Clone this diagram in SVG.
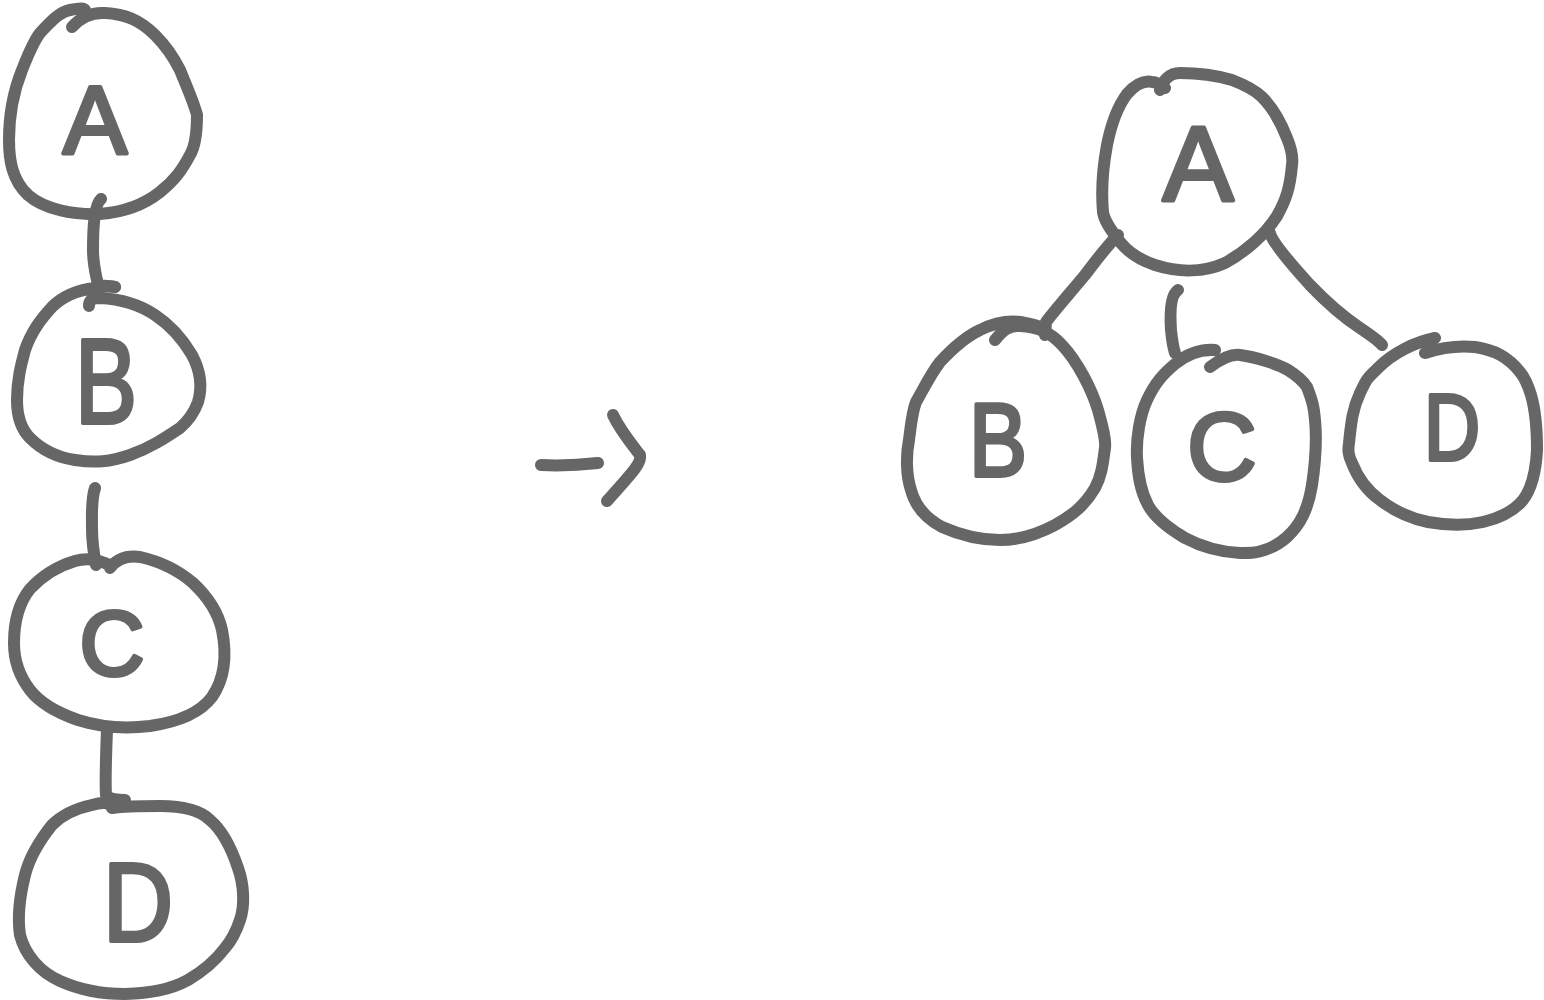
<svg xmlns="http://www.w3.org/2000/svg" width="1544" height="1000" viewBox="0 0 1544 1000">
<style>
.s{fill:none;stroke:#666;stroke-width:12;stroke-linecap:round;stroke-linejoin:round}
.t{font-family:"Liberation Sans",Arial,sans-serif;fill:#666;stroke:#666;stroke-width:4;stroke-linejoin:round;text-anchor:middle}
</style>
<rect width="1544" height="1000" fill="#fff"/>
<g id="connectors">
<path class="s" d="M101,199 C94,205 93,230 93,250 C93,265 96,275 98,285 L115,287"/>
<path class="s" d="M95,488 C91,500 92,515 92,528 C92,545 94,555 96,565"/>
<path class="s" d="M107,730 C106,755 105,780 106,795 C110,800 118,800 125,800"/>
<path class="s" d="M541,465 C560,466 580,465 598,463"/>
<path class="s" d="M613,415 C620,430 630,442 640,455 C642,462 635,470 607,501"/>
<path class="s" d="M1118,235 C1105,248 1095,262 1085,275 C1070,293 1055,310 1046,322 L1045,335"/>
<path class="s" d="M1178,290 C1170,295 1170,315 1171,330 C1172,340 1173,347 1175,353"/>
<path class="s" d="M1270,233 C1272,242 1290,263 1310,285 C1330,306 1345,318 1360,328 C1372,336 1378,340 1382,345"/>
</g>
<g id="node-A-left">
<path class="s" d="M72,27 C80,18 90,12 105,13 C125,14 140,20 155,35 C165,45 175,60 180,70 C186,85 194,103 197,115 C197,130 196,145 190,155 C182,170 175,180 160,192 C145,204 125,212 100,214 C75,215 45,210 28,195 C12,180 9,160 9,140 C9,115 14,90 22,70 C28,55 33,42 40,33 C52,20 60,12 70,10 C80,8 84,8 85,10"/>
<text class="t" x="95" y="153" font-size="96">A</text>
</g>
<g id="node-B-left">
<path class="s" d="M89,306 C89,300 92,298 100,298 C120,299 140,305 155,315 C170,325 182,338 192,355 C200,370 203,385 198,402 C194,413 187,422 180,428 C165,438 150,448 130,455 C110,462 95,463 75,460 C55,457 40,448 30,438 C20,428 17,415 17,400 C17,380 21,365 25,350 C32,330 42,318 52,307 C63,296 78,290 95,288 C105,286 112,286 115,287"/>
<text class="t" x="106" y="423" font-size="120" textLength="62" lengthAdjust="spacingAndGlyphs">B</text>
</g>
<g id="node-C-left">
<path class="s" d="M110,568 C116,560 125,555 140,557 C158,561 178,570 193,583 C208,597 218,612 222,630 C227,655 225,678 212,697 C200,713 178,722 150,726 C125,729 100,727 78,720 C55,712 40,703 30,690 C20,677 14,660 14,643 C14,622 18,604 30,589 C42,576 58,566 75,561 C88,557 98,560 110,565"/>
<text class="t" x="112" y="675" font-size="90">C</text>
</g>
<g id="node-D-left">
<path class="s" d="M112,808 C125,806 140,806 160,806 C180,806 200,810 210,820 C222,830 232,850 238,868 C244,885 245,905 240,920 C236,932 232,940 225,948 C216,960 205,970 188,980 C170,990 150,993 125,994 C100,994 80,990 60,981 C40,972 25,955 20,935 C17,915 20,895 25,875 C30,855 40,840 52,825 C62,815 78,808 92,805 C102,802 110,802 112,808"/>
<text class="t" x="138" y="941" font-size="112" textLength="70" lengthAdjust="spacingAndGlyphs">D</text>
</g>
<g id="node-A-right">
<path class="s" d="M1160,90 C1163,80 1170,73 1180,73 C1200,73 1215,75 1232,80 C1245,85 1255,90 1262,97 C1272,107 1280,120 1287,138 C1292,150 1293,158 1292,165 C1290,188 1286,200 1277,216 C1265,235 1245,252 1225,263 C1205,272 1180,273 1155,265 C1140,260 1128,252 1120,242 C1110,229 1104,220 1103,212 C1101,190 1102,172 1107,145 C1112,120 1118,106 1127,94 C1135,85 1143,80 1152,82 C1158,82 1162,86 1165,88"/>
<text class="t" x="1198" y="200" font-size="106">A</text>
</g>
<g id="node-B-right">
<path class="s" d="M995,340 C1003,330 1010,325 1020,326 C1038,327 1050,332 1062,345 C1078,362 1092,390 1098,410 C1103,428 1106,440 1105,448 C1103,462 1102,475 1095,488 C1085,505 1073,515 1055,525 C1040,533 1020,540 1000,540 C980,540 960,535 942,527 C925,518 915,505 911,490 C906,475 906,455 909,440 C911,425 912,412 916,402 C923,390 930,375 940,362 C952,349 965,337 980,330 C992,324 1005,320 1020,322 C1030,324 1036,325 1040,327"/>
<text class="t" x="998" y="476" font-size="104" textLength="58" lengthAdjust="spacingAndGlyphs">B</text>
</g>
<g id="node-C-right">
<path class="s" d="M1210,367 C1222,358 1232,354 1240,355 C1255,357 1278,364 1288,370 C1296,375 1303,381 1307,387 C1314,405 1314,410 1315,420 C1317,440 1315,465 1312,485 C1308,510 1300,525 1287,537 C1275,548 1258,554 1240,553 C1220,552 1200,546 1185,538 C1168,528 1155,518 1148,505 C1140,490 1138,475 1137,458 C1136,438 1140,415 1147,400 C1155,383 1163,374 1175,364 C1188,353 1200,349 1215,350"/>
<text class="t" x="1222" y="480" font-size="96">C</text>
</g>
<g id="node-D-right">
<path class="s" d="M1425,353 C1440,348 1455,345 1475,347 C1495,350 1508,357 1520,372 C1525,378 1528,385 1531,395 C1536,412 1537,430 1537,450 C1536,470 1532,488 1523,500 C1513,512 1500,518 1483,522 C1465,526 1445,525 1428,522 C1408,518 1393,510 1380,500 C1365,489 1357,476 1352,463 C1348,455 1348,450 1349,443 C1351,425 1352,410 1360,393 C1368,376 1368,378 1378,368 C1393,353 1415,342 1435,338"/>
<text class="t" x="1452" y="460" font-size="94" textLength="56" lengthAdjust="spacingAndGlyphs">D</text>
</g>
</svg>
